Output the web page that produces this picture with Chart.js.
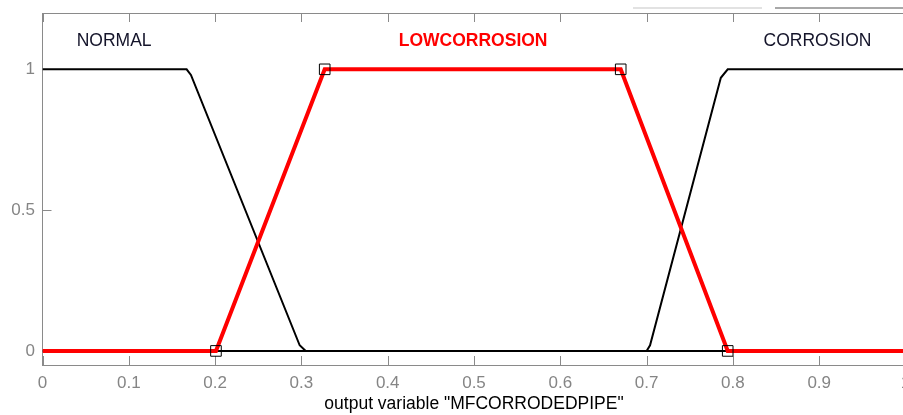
<!DOCTYPE html>
<html>
<head>
<meta charset="utf-8">
<script src="https://cdn.jsdelivr.net/npm/chart.js@4.4.1/dist/chart.umd.min.js"></script>
<style>
  html, body { margin: 0; padding: 0; background: #fff; overflow: hidden; }
  #mfChart { display: block; }
</style>
</head>
<body>
<canvas id="mfChart" width="920" height="415"></canvas>
<script>
// Funciones de pertenencia
const normalX = [0, 0.167, 0.172, 0.298, 0.305, 1];
const normalY = [1, 1, 0.98, 0.02, 0, 0];

const lowX = [0, 0.201, 0.327, 0.670, 0.794, 1];
const lowY = [0, 0, 1, 1, 0, 0];
const lowMarkers = [false, true, true, true, true, false];

const corrX = [0, 0.700, 0.704, 0.786, 0.794, 1];
const corrY = [0, 0, 0.02, 0.97, 1, 1];

// Etiquetas de cada función
const mfNames = ['NORMAL', 'LOWCORROSION', 'CORROSION'];
const mfLabelX = [0.083, 0.499, 0.898];
const mfLabelY = 1.1;
const mfLabelColors = ['#14142a', '#ff0000', '#14142a'];
const mfLabelBold = [false, true, false];

// Ejes
const xTicks = [0, 0.1, 0.2, 0.3, 0.4, 0.5, 0.6, 0.7, 0.8, 0.9, 1];
const xTickLabels = ['0', '0.1', '0.2', '0.3', '0.4', '0.5', '0.6', '0.7', '0.8', '0.9', '1'];
const yTicks = [0, 0.5, 1];
const yTickLabels = ['0', '0.5', '1'];
const xTitle = 'output variable "MFCORRODEDPIPE"';

const axisGray = '#8a8a8a';
const FONT = '"Liberation Sans", Arial, sans-serif';

function toPoints(xs, ys) {
    return xs.map((x, i) => ({ x: x, y: ys[i] }));
}

// Dibuja el marco superior, las marcas hacia dentro y los nombres
const extrasPlugin = {
    id: 'extras',
    beforeDatasetsDraw(chart) {
        const { ctx, chartArea, scales } = chart;
        const tl = 9;
        ctx.save();
        ctx.strokeStyle = axisGray;
        ctx.lineWidth = 1;
        ctx.beginPath();
        // borde superior
        ctx.moveTo(chartArea.left, chartArea.top + 0.5);
        ctx.lineTo(chartArea.right, chartArea.top + 0.5);
        xTicks.forEach(v => {
            const px = Math.round(scales.x.getPixelForValue(v)) + 0.5;
            ctx.moveTo(px, chartArea.bottom);
            ctx.lineTo(px, chartArea.bottom - tl);
            ctx.moveTo(px, chartArea.top);
            ctx.lineTo(px, chartArea.top + tl);
        });
        yTicks.forEach(v => {
            const py = Math.round(scales.y.getPixelForValue(v)) + 0.5;
            ctx.moveTo(chartArea.left, py);
            ctx.lineTo(chartArea.left + tl, py);
        });
        ctx.stroke();

        // restos grises de la ventana, arriba a la derecha
        ctx.lineWidth = 2;
        ctx.strokeStyle = '#e2e2e2';
        ctx.beginPath();
        ctx.moveTo(633, 8);
        ctx.lineTo(762, 8);
        ctx.stroke();
        ctx.strokeStyle = '#a8a8a8';
        ctx.beginPath();
        ctx.moveTo(775, 8);
        ctx.lineTo(905, 8);
        ctx.stroke();
        ctx.restore();
    },
    afterDatasetsDraw(chart) {
        const { ctx, scales } = chart;
        ctx.save();
        ctx.textAlign = 'center';
        ctx.textBaseline = 'middle';
        mfNames.forEach((name, i) => {
            ctx.font = (mfLabelBold[i] ? 'bold ' : '') + '17.5px ' + FONT;
            ctx.fillStyle = mfLabelColors[i];
            ctx.fillText(name, scales.x.getPixelForValue(mfLabelX[i]), scales.y.getPixelForValue(mfLabelY));
        });
        ctx.restore();
    }
};

const canvas = document.getElementById('mfChart');
const chart = new Chart(canvas.getContext('2d'), {
    type: 'scatter',
    data: {
        datasets: [
            {
                label: 'LOWCORROSION',
                data: toPoints(lowX, lowY),
                showLine: true,
                borderColor: '#ff0000',
                borderWidth: 4,
                pointStyle: 'rect',
                pointRadius: lowMarkers.map(m => m ? 7.5 : 0),
                pointBackgroundColor: 'rgba(0,0,0,0)',
                pointBorderColor: '#000',
                pointBorderWidth: 1,
                tension: 0
            },
            {
                label: 'NORMAL',
                data: toPoints(normalX, normalY),
                showLine: true,
                borderColor: '#000',
                borderWidth: 2,
                pointRadius: 0,
                tension: 0
            },
            {
                label: 'CORROSION',
                data: toPoints(corrX, corrY),
                showLine: true,
                borderColor: '#000',
                borderWidth: 2,
                pointRadius: 0,
                tension: 0
            }
        ]
    },
    options: {
        responsive: false,
        animation: false,
        devicePixelRatio: 1,
        layout: { padding: { left: 0, top: 13, right: 14.5, bottom: 0 } },
        plugins: {
            legend: { display: false },
            tooltip: { enabled: false }
        },
        scales: {
            x: {
                type: 'linear',
                min: 0,
                max: 1,
                grid: { display: false, drawTicks: false },
                border: { display: true, color: axisGray, width: 1 },
                afterBuildTicks: scale => { scale.ticks = xTicks.map(v => ({ value: v })); },
                afterFit: scale => {
                    scale.height = 50;
                    scale.paddingLeft = 0;
                    scale.paddingRight = 0;
                },
                ticks: {
                    padding: 8,
                    color: '#858585',
                    font: { family: FONT, size: 17 },
                    maxRotation: 0,
                    autoSkip: false,
                    callback: (v, i) => xTickLabels[i]
                },
                title: {
                    display: true,
                    text: xTitle,
                    color: '#000',
                    font: { family: FONT, size: 17.5, lineHeight: 1.2 },
                    padding: { top: 0, bottom: 0.5 }
                }
            },
            y: {
                type: 'linear',
                min: -0.05,
                max: 1.2,
                grid: { display: false, drawTicks: false },
                border: { display: true, color: axisGray, width: 1 },
                afterBuildTicks: scale => { scale.ticks = yTicks.map(v => ({ value: v })); },
                afterFit: scale => {
                    scale.width = 42.5;
                    scale.paddingTop = 0;
                    scale.paddingBottom = 0;
                },
                ticks: {
                    padding: 7.5,
                    color: '#858585',
                    font: { family: FONT, size: 17 },
                    callback: (v, i) => yTickLabels[i]
                }
            }
        }
    },
    plugins: [extrasPlugin]
});
</script>
</body>
</html>
